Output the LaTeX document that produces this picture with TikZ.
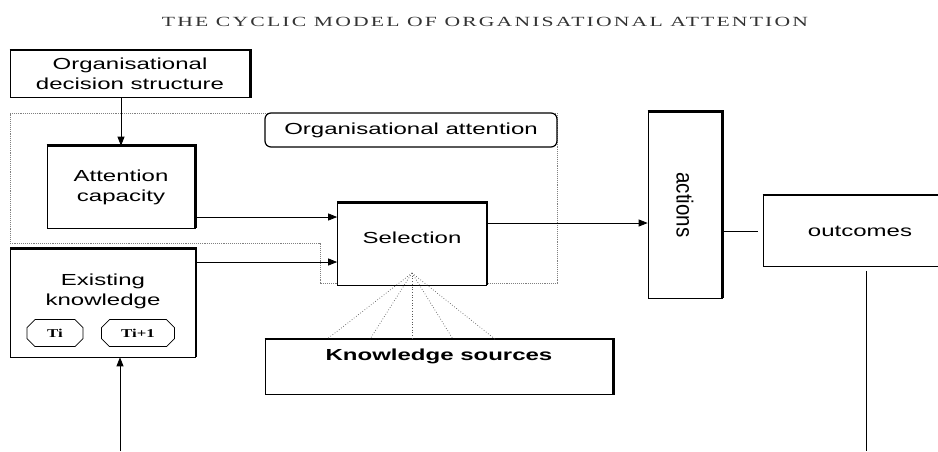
\documentclass[tikz,border=0pt]{standalone}
\usepackage{fontspec}
\newfontfamily\boxfont[FakeStretch=1.5]{Liberation Sans}
\newfontfamily\plainfont{Liberation Sans}
\newfontfamily\headfont[LetterSpace=10]{Liberation Serif}
\newfontfamily\tfont[FakeStretch=1.4]{Liberation Serif}
\usetikzlibrary{arrows.meta}
\usetikzlibrary{shapes.misc}
\usetikzlibrary{positioning}

\begin{document}
\begin{tikzpicture}[x=1pt,y=-1pt,
    box/.style={draw,rectangle,inner sep=0pt,line width=0.7pt,fill=white,
      font=\boxfont\fontsize{16}{20}\selectfont,align=center},
    boxtext/.style={inner sep=0pt,font=\boxfont\fontsize{16}{20}\selectfont,align=center},
    tbox/.style={draw,chamfered rectangle,chamfered rectangle xsep=4pt,
      chamfered rectangle ysep=4pt,inner sep=0pt,line width=0.7pt,
      font=\tfont\bfseries\fontsize{12}{13}\selectfont},
    rim/.style={line width=2.4pt},
    zone/.style={densely dotted,gray,line width=0.9pt},
    fan/.style={dotted,gray!70!black,line width=0.7pt},
    arr/.style={-{Triangle[length=9pt,width=7pt]},line width=0.8pt}]
  \useasboundingbox (0,0) rectangle (938,451);
  \clip (0,0) rectangle (938,451);

  \node[inner sep=0pt,font=\headfont\fontsize{14}{16}\selectfont,text=black!80] (title) at (485,22)
    {\resizebox{646pt}{\height}{THE CYCLIC MODEL OF ORGANISATIONAL ATTENTION}};

  % attention zone
  \draw[zone] (10,113) -- (557,113) -- (557,283) -- (320,283) -- (320,243)
    -- (10,243) -- cycle;
  \node[box,rounded corners=6pt,line width=1.2pt,minimum width=292,minimum height=34]
    (att) at (411,130) {Organisational attention};

  \node[box,minimum width=240,minimum height=47] (ods) at (130,74)
    {Organisational\\decision structure};
  \node[box,minimum width=148,minimum height=82] (cap) at (121,187)
    {Attention\\capacity};
  \node[box,minimum width=185,minimum height=108] (ek) at (103,303) {};
  \node[boxtext] (ektext) at (103,291) {Existing\\knowledge};
  \node[tbox,minimum width=56,minimum height=27] (ti) at (55,333) {Ti};
  \node[tbox,minimum width=73,minimum height=27] (tnext) at (138,333) {Ti+1};
  \node[box,minimum width=149,minimum height=82] (sel) at (412,244)
    {\raisebox{12pt}{Selection}};
  \node[box,minimum width=74,minimum height=186] (act) at (685,205)
    {\rotatebox{-90}{\scalebox{1.37}[1.55]{\plainfont\fontsize{15}{18}\selectfont actions}}};
  \node[box,minimum width=194,minimum height=71] (out) at (860,231) {outcomes};
  \node[box,minimum width=348,minimum height=55] (ks) at (439,367) {};
  \node[boxtext,font=\boxfont\bfseries\fontsize{16}{20}\selectfont,below=10pt of ks.north]
    (kstext) {Knowledge sources};

  % heavy top and right edges
  \foreach \n in {ods,cap,ek,sel,act,out,ks}
    \draw[rim] (\n.north west) -- (\n.north east) -- (\n.south east);

  \coordinate (apex) at (412,273);
  \coordinate (fin) at (120,451);
  \coordinate (fout) at (866,451);

  \draw[arr] (cap.north |- ods.south) -- (cap.north);
  \draw[arr] ([yshift=-30pt]cap.east) -- ([yshift=-30pt]cap.east -| sel.west);
  \draw[arr] ([yshift=41pt]ek.east) -- ([yshift=41pt]ek.east -| sel.west);
  \draw[arr] ([yshift=21pt]sel.east) -- ([yshift=21pt]sel.east -| act.west);
  \draw[line width=0.6pt] (act.east |- out.west) -- ([xshift=-5pt]out.west);
  \draw[line width=0.9pt] ([yshift=-4pt]out.south -| fout) -- (fout);
  \draw[arr] (fin) -- (fin |- ek.south);
  \foreach \dx in {-112,-69,-27,14,56}
    \draw[fan] (apex) -- ([xshift=\dx pt]ks.north);
\end{tikzpicture}
\end{document}
